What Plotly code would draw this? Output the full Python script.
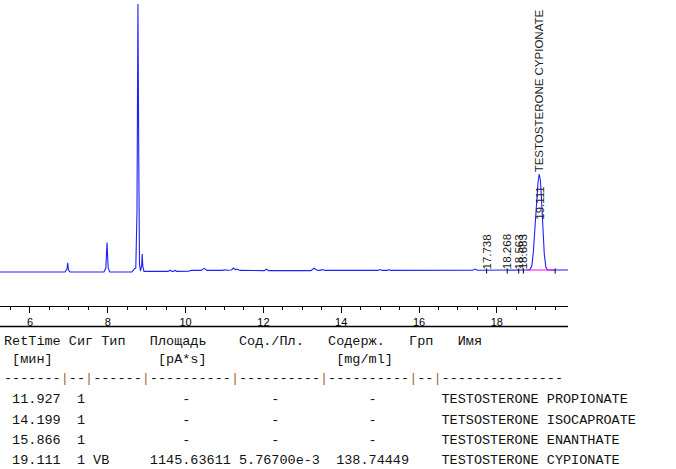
import plotly.graph_objects as go

# chromatogram signal: time [min], signal [pA]
time = [5.2, 6.90, 6.95, 6.97, 6.99, 7.03, 7.90, 7.95, 7.98, 8.01, 8.05,
        8.62, 8.68, 8.72, 8.75, 8.775, 8.795, 8.815, 8.84, 8.87, 8.885, 8.90, 8.93,
        9.55, 9.60, 9.65, 9.70, 9.73, 9.77, 10.08, 10.14, 10.40, 10.48, 10.55,
        10.95, 11.00, 11.08, 11.18, 11.23, 11.28, 11.33, 11.40,
        12.02, 12.08, 12.14, 13.22, 13.30, 13.38, 13.45, 13.52, 13.58,
        14.95, 15.00, 15.06, 15.18, 15.23, 15.28, 17.38, 17.44, 17.50,
        18.80, 18.85, 18.90, 18.94, 18.98, 19.02, 19.06, 19.09, 19.12, 19.15,
        19.18, 19.22, 19.26, 19.30, 19.36, 19.9]
signal = [0, 0, 1.5, 4.6, 1.0, 0, 0, 2, 14.7, 2, 0,
          0, 1.5, 2, 30, 134, 60, 4, 0.5, 3, 9, 3, 0.3,
          0.3, 0.9, 0.3, 0.4, 0.9, 0.3, 0.4, 0.8, 0.8, 1.8, 0.8,
          0.8, 1.1, 0.9, 1.0, 2.0, 1.2, 1.4, 0.8,
          0.7, 1.4, 0.7, 0.7, 1.9, 0.9, 0.8, 1.2, 0.8,
          0.8, 1.2, 0.8, 0.8, 1.1, 0.8, 0.9, 1.5, 0.9,
          1.0, 1.2, 3, 10, 22, 35, 45, 49, 46, 36,
          23, 9, 2.5, 1.1, 1.0, 1.0]

# integrated peaks marked on the trace
peak_rt = [17.738, 18.268, 18.563, 18.683]
main_rt = 19.111
main_name = "TESTOSTERONE CYPIONATE"
baseline_start, baseline_end, baseline_level = 18.78, 19.50, 1.0

# report table
tbl_rt = ["11.927", "14.199", "15.866", "19.111"]
tbl_sig = ["1", "1", "1", "1"]
tbl_type = ["", "", "", "VB"]
tbl_area = ["-", "-", "-", "1145.63611"]
tbl_amt_area = ["-", "-", "-", "5.76700e-3"]
tbl_amount = ["-", "-", "-", "138.74449"]
tbl_name = ["TESTOSTERONE PROPIONATE", "TETSOSTERONE ISOCAPROATE",
            "TESTOSTERONE ENANTHATE", "TESTOSTERONE CYPIONATE"]

W, H = 676, 469
PLOT_RIGHT = 568   # px
AXIS_Y = 306       # px

fig = go.Figure()

fig.add_trace(go.Scatter(x=time, y=signal, mode='lines',
                         line=dict(color='#1f1fff', width=1.1),
                         hoverinfo='skip'))

# baseline of the integrated peak
fig.add_trace(go.Scatter(x=[baseline_start, baseline_end],
                         y=[baseline_level, baseline_level], mode='lines',
                         line=dict(color='#ff00ff', width=1),
                         hoverinfo='skip'))

# little tick marks at each retention time
tx, ty = [], []
for t in peak_rt + [baseline_end]:
    tx += [t, t, None]
    ty += [1.8, -0.8, None]
fig.add_trace(go.Scatter(x=tx, y=ty, mode='lines',
                         line=dict(color='black', width=1),
                         hoverinfo='skip'))

lbl_font = dict(family='Liberation Sans, Arial', size=11.5, color='#1a1a1a')
for t in peak_rt:
    fig.add_annotation(x=t, y=0.3, xref='x', yref='y', text=f"{t:.3f}",
                       textangle=-90, showarrow=False, xanchor='center',
                       yanchor='bottom', font=lbl_font)
fig.add_annotation(x=main_rt - 0.02, y=25, xref='x', yref='y',
                   text=f"{main_rt:.3f}", textangle=-90, showarrow=False,
                   xanchor='center', yanchor='bottom', font=lbl_font)
fig.add_annotation(x=main_rt - 0.03, y=49, xref='x', yref='y',
                   text=main_name, textangle=-90, showarrow=False,
                   xanchor='center', yanchor='bottom', font=lbl_font)

# line under the axis labels
fig.add_shape(type='line', xref='paper', yref='paper',
              x0=0, x1=PLOT_RIGHT / W, y0=1 - 326.5 / H, y1=1 - 326.5 / H,
              line=dict(color='black', width=1.5))

# table text, monospace columns
def nb(s):
    return s.replace(' ', '\u00a0')

pipe = '<span style="color:#9a6a35">|</span>'
rows = [
    nb("RetTime Сиг Тип   Площадь    Сод./Пл.   Содерж.   Грп   Имя"),
    nb(" [мин]             [pA*s]                [mg/ml]"),
    pipe.join(["-" * 7, "-" * 2, "-" * 6, "-" * 10, "-" * 10, "-" * 10, "-" * 2, "-" * 15]),
]
for i in range(len(tbl_rt)):
    area = tbl_area[i] if tbl_area[i] != "-" else "    -"
    amt_area = tbl_amt_area[i] if tbl_amt_area[i] != "-" else "    -"
    amount = tbl_amount[i] if tbl_amount[i] != "-" else "    -"
    line = (" " + tbl_rt[i] + "  " + tbl_sig[i] + " " + tbl_type[i].ljust(6)
            + " " + area.ljust(10) + " " + amt_area.ljust(10) + "  " + amount.ljust(9)
            + "    " + tbl_name[i])
    rows.append(nb(line))

row_y = [341, 359, 378, 399, 420, 440, 460]
mono = dict(family='Liberation Mono, DejaVu Sans Mono, monospace', size=13.5, color='#111')
for txt, yp in zip(rows, row_y):
    fig.add_annotation(x=2 / W, y=1 - yp / H, xref='paper', yref='paper',
                       text=txt, showarrow=False,
                       xanchor='left', yanchor='middle', align='left', font=mono)

fig.update_layout(
    width=W, height=H,
    margin=dict(l=0, r=0, t=0, b=0),
    paper_bgcolor='white', plot_bgcolor='white',
    showlegend=False,
    xaxis=dict(domain=[0, PLOT_RIGHT / W], range=[5.229, 19.83],
               showline=True, linecolor='black', linewidth=1,
               ticks='outside', ticklen=6, tickcolor='black', tickwidth=1,
               tick0=0, dtick=2, showgrid=False, zeroline=False,
               minor=dict(dtick=0.5, ticks='outside', ticklen=3, tickcolor='black'),
               tickfont=dict(family='Liberation Sans, Arial', size=11, color='black')),
    yaxis=dict(domain=[1 - AXIS_Y / H, 1], range=[-17, 136], visible=False),
)

fig.write_html("out.html", config={'displayModeBar': False},
               post_script="document.body.style.margin='0';")
